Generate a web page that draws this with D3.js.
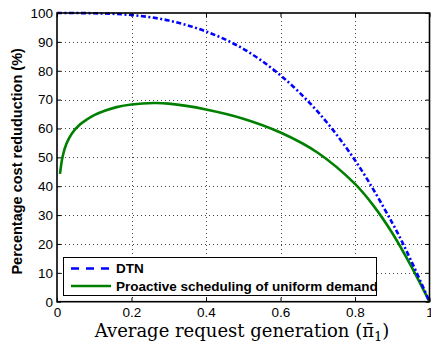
<!DOCTYPE html>
<html><head><meta charset="utf-8">
<script src="https://cdn.jsdelivr.net/npm/d3@7"></script>
<style>body{margin:0;background:#fff}svg{display:block}</style>
</head><body>
<script>
// ---- data ----
const xTicks = [0, 0.2, 0.4, 0.6, 0.8, 1];
const xTickLabels = ["0", "0.2", "0.4", "0.6", "0.8", "1"];
const yTicks = [0, 10, 20, 30, 40, 50, 60, 70, 80, 90, 100];
const dtnX = [0, 0.1, 0.2, 0.3, 0.4, 0.5, 0.6, 0.7, 0.8, 0.9, 0.95, 1];
const dtnY = [100, 99.9, 99.3, 97.4, 93.6, 87.6, 78.4, 65.8, 49, 27.3, 14.4, 0];
const proX = [0.008, 0.015, 0.025, 0.04, 0.06, 0.08, 0.1, 0.13, 0.16, 0.2, 0.26, 0.3, 0.4, 0.5, 0.6, 0.7, 0.8, 0.85, 0.9, 0.95, 1];
const proY = [44.3, 50.2, 54.6, 58.3, 61.2, 63.1, 64.6, 66.2, 67.4, 68.3, 68.8, 68.6, 66.6, 63.4, 58.6, 51.6, 40.8, 33.2, 23.8, 12.5, 0];
const legendLabels = ["DTN", "Proactive scheduling of uniform demand"];

const W = 431, H = 345;
const svg = d3.select("body").append("svg").attr("width", W).attr("height", H);
const x = d3.scaleLinear().domain([0, 1]).range([57, 429.5]);
const y = d3.scaleLinear().domain([0, 100]).range([301.7, 13]);
const [x0, x1] = x.range(), [y0, y1] = y.range();

// grid
const grid = svg.append("g").attr("stroke", "#444").attr("stroke-width", 1).attr("stroke-dasharray", "1,3");
grid.selectAll(".gx").data(xTicks.slice(1, -1)).join("line")
  .attr("x1", d => Math.round(x(d)) + 0.5).attr("x2", d => Math.round(x(d)) + 0.5).attr("y1", y1).attr("y2", y0);
grid.selectAll(".gy").data(yTicks.slice(1, -1)).join("line")
  .attr("y1", d => Math.round(y(d)) + 0.5).attr("y2", d => Math.round(y(d)) + 0.5).attr("x1", x0).attr("x2", x1);

// curves
const line = d3.line().x(d => x(d[0])).y(d => y(d[1])).curve(d3.curveCatmullRom.alpha(0.5));
svg.append("path").datum(proX.map((v, i) => [v, proY[i]]))
  .attr("d", line).attr("fill", "none").attr("stroke", "#008000").attr("stroke-width", 2.6);
svg.append("path").datum(dtnX.map((v, i) => [v, dtnY[i]]))
  .attr("d", line).attr("fill", "none").attr("stroke", "#0000ff").attr("stroke-width", 2.6)
  .attr("stroke-dasharray", "5,2.5,2,2.5");

// axes
const fmtX = d => xTickLabels[xTicks.indexOf(d)];
const styleAxis = g => {
  g.select(".domain").remove();
  g.selectAll("line").attr("stroke", "#000");
  g.selectAll("text").attr("font-family", "Liberation Sans, Arial, sans-serif").attr("font-size", 13.5).attr("fill", "#000");
};
svg.append("g").attr("transform", `translate(0,${y0})`)
  .call(d3.axisBottom(x).tickValues(xTicks).tickFormat(fmtX).tickSize(-4).tickPadding(6)).call(styleAxis);
svg.append("g").attr("transform", `translate(0,${y1})`)
  .call(d3.axisTop(x).tickValues(xTicks).tickFormat("").tickSize(-4)).call(styleAxis);
svg.append("g").attr("transform", `translate(${x0},0)`)
  .call(d3.axisLeft(y).tickValues(yTicks).tickFormat(d3.format("d")).tickSize(-4).tickPadding(4)).call(styleAxis);
svg.append("g").attr("transform", `translate(${x1},0)`)
  .call(d3.axisRight(y).tickValues(yTicks).tickFormat("").tickSize(-4)).call(styleAxis);
svg.append("rect").attr("x", x0).attr("y", y1).attr("width", x1 - x0).attr("height", y0 - y1)
  .attr("fill", "none").attr("stroke", "#000").attr("stroke-width", 1.6);

// legend
const lg = svg.append("g");
lg.append("rect").attr("x", 63.5).attr("y", 257.5).attr("width", 313).attr("height", 38)
  .attr("fill", "#fff").attr("stroke", "#000").attr("stroke-width", 1);
const lgColors = ["#0000ff", "#008000"], lgDash = ["8,7", null], lgY = [268.5, 286];
legendLabels.forEach((t, i) => {
  lg.append("line").attr("x1", 71).attr("x2", 111).attr("y1", lgY[i]).attr("y2", lgY[i])
    .attr("stroke", lgColors[i]).attr("stroke-width", 2.6).attr("stroke-dasharray", lgDash[i]);
  lg.append("text").attr("x", 116).attr("y", lgY[i] + 4.8).text(t)
    .attr("font-family", "Liberation Sans, Arial, sans-serif").attr("font-weight", "bold").attr("font-size", 13.5);
});

// axis titles
svg.append("text").attr("transform", `translate(22,${(y0 + y1) / 2 + 4}) rotate(-90)`)
  .attr("text-anchor", "middle").attr("font-family", "Liberation Sans, Arial, sans-serif")
  .attr("font-weight", "bold").attr("font-size", 14.5).text("Percentage cost reduduction (%)");
const xt = svg.append("text").attr("x", 242).attr("y", 337).attr("text-anchor", "middle")
  .attr("font-family", "DejaVu Serif, serif").attr("font-size", 18);
xt.append("tspan").text("Average request generation (π\u0304");
xt.append("tspan").attr("font-size", 13).attr("dy", 4).text("1");
xt.append("tspan").attr("dy", -4).text(")");
</script>
</body></html>
